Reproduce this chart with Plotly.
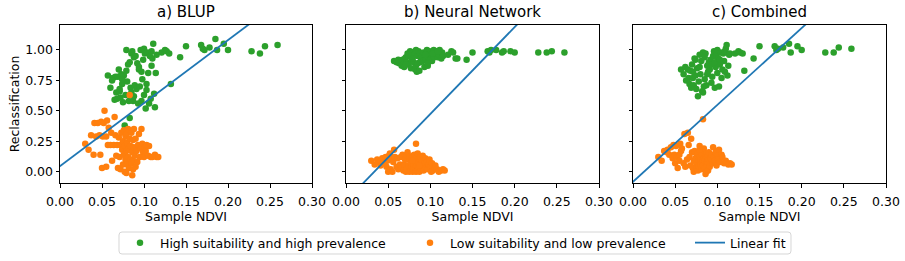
import plotly.graph_objects as go

# ---------------- data ----------------
titles = ["a) BLUP", "b) Neural Network", "c) Combined"]
series_names = ["High suitability and high prevalence", "Low suitability and low prevalence", "Linear fit"]

green_x = [0.057, 0.060, 0.063, 0.065, 0.066, 0.067, 0.068, 0.069, 0.070, 0.071, 0.072, 0.073, 0.074, 0.075,
           0.076, 0.077, 0.078, 0.079, 0.080, 0.081, 0.082, 0.083, 0.083, 0.084, 0.085, 0.085, 0.086, 0.087,
           0.088, 0.089, 0.090, 0.091, 0.092, 0.093, 0.094, 0.095, 0.096, 0.097, 0.098, 0.099, 0.100, 0.100,
           0.101, 0.102, 0.103, 0.104, 0.105, 0.106, 0.107, 0.108, 0.109, 0.110, 0.111, 0.112, 0.113, 0.114,
           0.115, 0.074, 0.079, 0.088, 0.094, 0.071, 0.062, 0.097, 0.103, 0.109,
           0.121, 0.125, 0.127, 0.130, 0.132, 0.143, 0.150, 0.168, 0.170, 0.172, 0.178, 0.185, 0.187, 0.195,
           0.200, 0.228, 0.238, 0.244, 0.259]
green_blup = [0.79, 0.69, 0.77, 0.59, 0.78, 0.65, 0.60, 0.78, 0.84, 0.66, 0.61, 0.80, 0.72, 0.57,
              0.79, 0.38, 0.63, 1.00, 0.74, 0.88, 0.58, 0.44, 0.90, 0.69, 0.65, 0.97, 0.99, 0.58,
              0.94, 0.71, 0.95, 0.68, 0.89, 0.56, 0.84, 0.70, 1.00, 0.58, 0.76, 0.92, 0.63, 1.01,
              0.97, 0.52, 0.67, 0.98, 0.81, 0.56, 0.95, 0.60, 0.99, 0.93, 1.05, 0.64, 0.53, 0.81,
              0.96, 0.76, 0.83, 0.62, 0.86, 0.68, 0.75, 0.82, 0.72, 0.87,
              0.98, 1.00, 0.99, 0.97, 0.72, 0.94, 1.03, 1.04, 1.01, 1.00, 1.02, 1.09, 1.00, 1.05,
              1.00, 0.99, 0.97, 1.03, 1.04]
green_nn = [0.91, 0.90, 0.89, 0.90, 0.87, 0.92, 0.91, 0.86, 0.93, 0.94, 0.90, 0.97, 0.88, 0.95,
            0.99, 0.85, 0.92, 0.98, 0.90, 0.96, 0.84, 0.87, 1.00, 0.82, 0.89, 0.95, 0.99, 0.83,
            0.97, 0.93, 0.95, 0.91, 0.98, 0.86, 0.92, 0.97, 1.00, 0.87, 0.94, 0.99, 0.93, 0.98,
            0.96, 0.91, 0.95, 1.00, 0.94, 0.98, 0.97, 0.99, 0.94, 0.96, 1.00, 0.95, 0.93, 0.98,
            0.95, 0.96, 0.93, 0.90, 0.96, 0.88, 0.92, 0.89, 0.97, 0.99,
            0.96, 0.99, 0.98, 0.93, 0.93, 0.92, 0.98, 0.99, 0.98, 1.00, 1.00, 0.98, 0.99, 0.99,
            0.98, 0.98, 0.98, 0.99, 0.98]
green_comb = [0.84, 0.80, 0.75, 0.84, 0.77, 0.72, 0.83, 0.69, 0.88, 0.77, 0.71, 0.93, 0.79, 0.68,
              0.85, 0.62, 0.74, 0.96, 0.80, 0.91, 0.66, 0.65, 0.98, 0.70, 0.76, 0.94, 0.97, 0.71,
              0.87, 0.82, 0.90, 0.84, 0.92, 0.73, 0.78, 0.95, 0.99, 0.69, 0.86, 0.95, 0.81, 1.00,
              0.93, 0.70, 0.88, 0.98, 0.77, 0.84, 0.97, 0.91, 0.99, 1.01, 1.04, 0.79, 0.87, 0.96,
              0.97, 0.92, 0.86, 0.80, 0.88, 0.82, 0.86, 0.90, 0.92, 0.82,
              0.97, 0.99, 0.98, 0.97, 0.83, 0.93, 1.03, 1.03, 1.00, 1.01, 1.02, 1.05, 0.98, 1.03,
              1.00, 0.98, 0.98, 1.02, 1.01]

orange_x = [0.030, 0.034, 0.037, 0.040, 0.041, 0.043, 0.045, 0.047, 0.048, 0.049, 0.050, 0.051, 0.052,
            0.053, 0.055, 0.055, 0.056, 0.057, 0.058, 0.060, 0.061, 0.062, 0.064, 0.065, 0.066, 0.067,
            0.068, 0.069, 0.070, 0.071, 0.072, 0.072, 0.073, 0.074, 0.075, 0.075, 0.076, 0.076, 0.077,
            0.077, 0.078, 0.078, 0.079, 0.079, 0.080, 0.080, 0.081, 0.081, 0.082, 0.082, 0.083, 0.083,
            0.084, 0.084, 0.085, 0.085, 0.086, 0.086, 0.087, 0.087, 0.088, 0.088, 0.089, 0.090, 0.090,
            0.091, 0.092, 0.093, 0.094, 0.095, 0.096, 0.097, 0.098, 0.099, 0.100, 0.101, 0.102, 0.103,
            0.105, 0.106, 0.108, 0.110, 0.113, 0.115, 0.117, 0.087, 0.079]
orange_blup = [0.23, 0.18, 0.30, 0.14, 0.40, 0.29, 0.40, 0.30, 0.14, 0.41, 0.03, 0.29, 0.40,
               0.50, 0.29, 0.04, 0.42, 0.22, 0.36, 0.22, 0.32, 0.09, 0.22, 0.45, 0.30, 0.13,
               0.22, 0.03, 0.28, 0.12, 0.22, 0.02, 0.32, 0.18, 0.06, 0.25, 0.34, 0.14, 0.00,
               0.21, 0.29, 0.10, 0.17, 0.31, 0.06, 0.24, 0.12, 0.35, 0.19, 0.03, 0.63, 0.27,
               0.10, 0.21, 0.32, 0.07, -0.03, 0.16, 0.26, 0.09, 0.20, 0.35, 0.13, 0.04, 0.27,
               0.17, 0.08, 0.22, 0.31, 0.12, 0.19, 0.35, 0.23, 0.16, 0.12, 0.20, 0.17, 0.22,
               0.13, 0.21, 0.12, 0.12, 0.14, 0.12, 0.12, 0.02, -0.01]
orange_nn = [0.09, 0.06, 0.10, 0.08, 0.05, 0.11, 0.07, 0.12, 0.04, 0.09, 0.00, 0.13, 0.15,
             0.02, 0.10, 0.00, 0.08, 0.18, 0.12, 0.04, 0.11, 0.02, 0.06, 0.12, 0.03, 0.14,
             0.01, 0.06, 0.10, 0.00, 0.13, 0.02, 0.16, 0.05, 0.00, 0.12, 0.03, 0.09, 0.07,
             0.01, 0.11, 0.04, 0.00, 0.13, 0.06, 0.02, 0.14, 0.08, 0.03, 0.10, 0.23, 0.00,
             0.12, 0.05, 0.01, 0.15, 0.08, 0.03, 0.10, 0.00, 0.06, 0.12, 0.02, 0.09, 0.04,
             0.13, 0.01, 0.07, 0.11, 0.03, 0.08, 0.02, 0.06, 0.10, 0.04, 0.00, 0.07, 0.01,
             0.03, 0.05, 0.02, 0.00, 0.01, 0.02, 0.01, 0.05, 0.09]
orange_comb = [0.12, 0.09, 0.17, 0.16, 0.18, 0.14, 0.20, 0.11, 0.22, 0.14, 0.07, 0.21, 0.12,
               0.03, 0.09, 0.14, 0.23, 0.17, 0.19, 0.07, 0.31, 0.04, 0.10, 0.32, 0.22, 0.12,
               0.05, 0.27, 0.16, 0.03, 0.09, 0.00, 0.17, 0.11, 0.05, 0.02, 0.13, 0.07, 0.01,
               0.15, 0.09, 0.04, 0.12, 0.21, 0.06, 0.10, 0.02, 0.17, 0.08, 0.14, 0.43, 0.05,
               0.11, 0.19, 0.03, 0.09, -0.02, 0.13, 0.06, 0.15, 0.08, 0.12, 0.01, 0.10, 0.16,
               0.04, 0.11, 0.14, 0.07, 0.20, 0.12, 0.09, 0.16, 0.05, 0.13, 0.10, 0.18, 0.08,
               0.14, 0.12, 0.07, 0.09, 0.06, 0.07, 0.06, 0.00, 0.18]

fit_slopes = [5.18, 7.14, 6.31]
fit_intercepts = [0.045, -0.240, -0.082]

x_ticks = [0.00, 0.05, 0.10, 0.15, 0.20, 0.25, 0.30]
y_ticks = [0.00, 0.25, 0.50, 0.75, 1.00]

green_y = [green_blup, green_nn, green_comb]
orange_y = [orange_blup, orange_nn, orange_comb]

# ---------------- styling ----------------
GREEN = "#2ca02c"
ORANGE = "#ff7f0e"
BLUE = "#1f77b4"
FONT = "DejaVu Sans"
FS = 12.5
W, H = 905, 261
x_px = [(60, 312), (346, 599), (633, 886)]
y_px = (25, 183)
XR = [0.0, 0.3]
YR = [-0.093, 1.205]
legend_names = ["legend", "legend2", "legend3"]
legend_left_px = [120, 410, 690]   # left edge of each legend entry
legend_cy = 243
legend_box = (119, 232, 791, 254)

fig = go.Figure()
for i in range(3):
    xa = "x" if i == 0 else f"x{i+1}"
    ya = "y" if i == 0 else f"y{i+1}"
    fig.add_trace(go.Scatter(x=green_x, y=green_y[i], mode="markers", xaxis=xa, yaxis=ya,
                             marker=dict(color=GREEN, size=6.5, line=dict(width=0)),
                             name=series_names[0], showlegend=(i == 0), legend=legend_names[0]))
    fig.add_trace(go.Scatter(x=orange_x, y=orange_y[i], mode="markers", xaxis=xa, yaxis=ya,
                             marker=dict(color=ORANGE, size=6.5, line=dict(width=0)),
                             name=series_names[1], showlegend=(i == 0), legend=legend_names[1]))
    lx = [-0.05, 0.35]
    ly = [fit_intercepts[i] + fit_slopes[i] * v for v in lx]
    fig.add_trace(go.Scatter(x=lx, y=ly, mode="lines", xaxis=xa, yaxis=ya,
                             line=dict(color=BLUE, width=1.8),
                             name=series_names[2], showlegend=(i == 0), legend=legend_names[2]))

layout = dict(
    width=W, height=H, margin=dict(l=0, r=0, t=0, b=0),
    paper_bgcolor="white", plot_bgcolor="white",
    font=dict(family=FONT, size=FS, color="black"),
    showlegend=True,
)
for k, ln in enumerate(legend_names):
    layout[ln] = dict(orientation="h", x=legend_left_px[k] / W, xanchor="left",
                      y=1 - legend_cy / H, yanchor="middle",
                      borderwidth=0, bgcolor="rgba(0,0,0,0)",
                      font=dict(family=FONT, size=FS), itemwidth=30)
for i in range(3):
    sx = "" if i == 0 else str(i + 1)
    x0, x1 = x_px[i]
    layout[f"xaxis{sx}"] = dict(
        domain=[x0 / W, x1 / W], range=XR, anchor=f"y{sx}", automargin=False,
        tickvals=x_ticks, ticktext=[f"{v:.2f}" for v in x_ticks],
        ticks="outside", ticklen=3.5, tickwidth=1, tickcolor="black", ticklabelstandoff=3,
        showline=True, linecolor="black", linewidth=1, mirror=True,
        showgrid=False, zeroline=False, tickfont=dict(size=FS),
        title=dict(text="Sample NDVI", font=dict(size=FS), standoff=3),
    )
    layout[f"yaxis{sx}"] = dict(
        domain=[1 - y_px[1] / H, 1 - y_px[0] / H], range=YR, anchor=f"x{sx}", automargin=False,
        tickvals=y_ticks, ticktext=[f"{v:.2f}" for v in y_ticks] if i == 0 else [""] * len(y_ticks),
        ticks="outside", ticklen=3.5, tickwidth=1, tickcolor="black",
        showline=True, linecolor="black", linewidth=1, mirror=True,
        showgrid=False, zeroline=False, tickfont=dict(size=FS),
        title=dict(text="Reclassification" if i == 0 else "", font=dict(size=FS), standoff=2),
    )
fig.update_layout(**layout)

for i in range(3):
    x0, x1 = x_px[i]
    fig.add_annotation(text=titles[i], x=(x0 + x1) / 2 / W, y=1 - 12 / H, xref="paper", yref="paper",
                       showarrow=False, xanchor="center", yanchor="middle",
                       font=dict(family=FONT, size=15, color="black"))

# rounded legend frame (paper coordinates)
bx0, by0, bx1, by1 = legend_box
r = 3


def P(px, py):
    return f"{px / W:.5f},{1 - py / H:.5f}"


path = (f"M{P(bx0 + r, by0)} L{P(bx1 - r, by0)} Q{P(bx1, by0)} {P(bx1, by0 + r)} "
        f"L{P(bx1, by1 - r)} Q{P(bx1, by1)} {P(bx1 - r, by1)} L{P(bx0 + r, by1)} "
        f"Q{P(bx0, by1)} {P(bx0, by1 - r)} L{P(bx0, by0 + r)} Q{P(bx0, by0)} {P(bx0 + r, by0)} Z")
fig.add_shape(type="path", path=path, xref="paper", yref="paper",
              line=dict(color="#d6d6d6", width=1), fillcolor="rgba(0,0,0,0)", layer="below")

fig.write_html("out.html")
